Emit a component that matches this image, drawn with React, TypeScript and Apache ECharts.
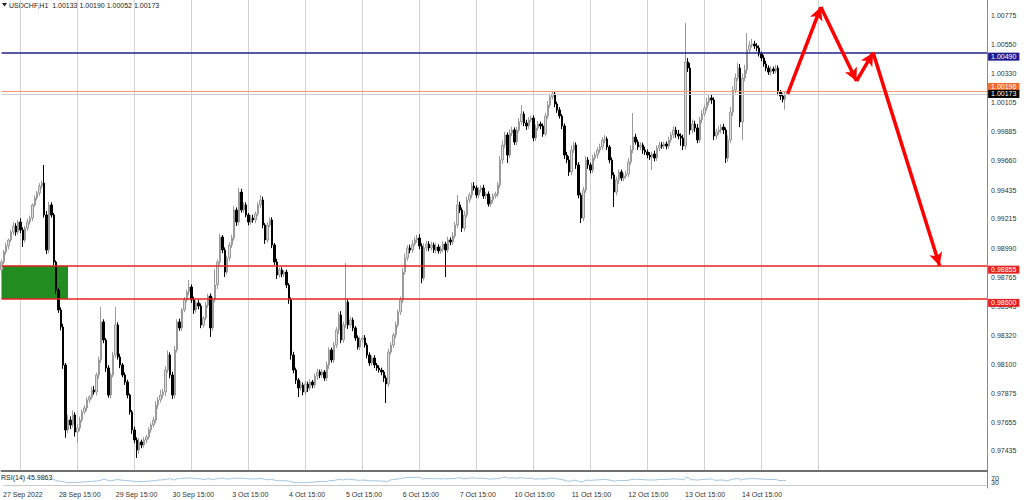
import React, { useEffect, useRef } from 'react';
import * as echarts from 'echarts';

// ---------- data (prices in 1e-5 points) ----------
const firstOpen = 98822;
const closes = [
  98883, 98960, 99006, 99052, 99113, 99159, 99113, 99190, 99129, 99052, 99144, 99190,
  99221, 99321, 99374, 99413, 99466, 99489, 99244, 98975, 99321, 99244, 98883, 98668,
  98515, 98384, 98093, 97594, 97670, 97632, 97709, 97578, 97609, 97670, 97732, 97763,
  97824, 97847, 97901, 97885, 98016, 98131, 98423, 98285, 98070, 97862, 98016, 98169,
  98400, 98154, 98093, 98016, 97962, 97862, 97732, 97594, 97517, 97440, 97502, 97479,
  97517, 97540, 97594, 97632, 97670, 97786, 97824, 97862, 97885, 98054, 98169, 98016,
  97862, 98208, 98423, 98377, 98515, 98592, 98653, 98691, 98592, 98515, 98569, 98545,
  98400, 98453, 98553, 98622, 98377, 98592, 98707, 98883, 99075, 98975, 98806, 98914,
  99014, 99067, 99282, 99190, 99420, 99282, 99321, 99244, 99190, 99221, 99206, 99252,
  99321, 99359, 99167, 99052, 99167, 99206, 99014, 98883, 98783, 98822, 98791, 98806,
  98707, 98592, 98169, 98054, 97978, 97916, 97939, 97885, 97947, 97916, 97962, 97939,
  98008, 98039, 98016, 98039, 97993, 98093, 98208, 98131, 98246, 98361, 98476, 98285,
  98400, 98576, 98400, 98438, 98377, 98300, 98231, 98285, 98300, 98246, 98169, 98108,
  98146, 98093, 98070, 98054, 98039, 97993, 97947, 98192, 98246, 98323, 98400, 98499,
  98592, 98806, 98914, 98991, 98975, 99021, 99052, 99067, 99006, 98760, 98991, 99021,
  98991, 99014, 98975, 98998, 98968, 98983, 99021, 98975, 99052, 99037, 99083, 99167,
  99321, 99282, 99144, 99244, 99359, 99397, 99466, 99451, 99397, 99436, 99451, 99390,
  99405, 99328, 99359, 99390, 99405, 99474, 99666, 99781, 99858, 99704, 99873, 99896,
  99804, 99896, 99958, 100019, 99950, 99927, 99973, 99988, 99835, 99912, 99942, 99927,
  99866, 100004, 100088, 100150, 100173, 100096, 100050, 100004, 99927, 99704, 99666, 99574,
  99743, 99781, 99628, 99397, 99221, 99436, 99666, 99628, 99589, 99681, 99704, 99743,
  99766, 99820, 99827, 99766, 99666, 99551, 99420, 99513, 99574, 99528, 99543, 99559,
  99651, 99743, 99842, 99804, 99766, 99781, 99743, 99727, 99704, 99689, 99712, 99681,
  99758, 99781, 99773, 99789, 99773, 99820, 99858, 99896, 99866, 99850, 99835, 99773,
  100418, 100372, 99896, 99942, 99912, 99820, 99973, 100019, 100065, 100111, 100142, 100127,
  99850, 99881, 99896, 99919, 99896, 99681, 99820, 100034, 100203, 100295, 100372, 99958,
  100295, 100357, 100510, 100549, 100556, 100541, 100526, 100480, 100449, 100403, 100372, 100341,
  100364, 100349, 100372, 100188, 100157, 100133, 100173,
];
const upperWicks = [
  20, 15, 25, 12, 18, 30, 22, 15, 28, 20, 14, 25,
  18, 12, 20, 15, 22, 18, 139, 30, 25, 20, 15, 12,
  18, 20, 25, 15, 40, 28, 35, 20, 30, 25, 18, 22,
  20, 15, 25, 30, 18, 25, 115, 20, 15, 22, 18, 25,
  138, 20, 25, 15, 20, 18, 12, 15, 25, 20, 30, 18,
  22, 15, 20, 18, 25, 30, 22, 40, 25, 30, 35, 20,
  25, 30, 20, 25, 15, 22, 18, 54, 20, 25, 18, 22,
  20, 15, 25, 18, 20, 25, 120, 20, 25, 15, 20, 18,
  22, 25, 30, 20, 31, 25, 18, 20, 15, 22, 25, 18,
  20, 38, 25, 15, 22, 18, 20, 15, 25, 18, 20, 15,
  18, 15, 20, 25, 18, 15, 30, 20, 25, 18, 22, 15,
  20, 25, 18, 22, 15, 25, 20, 18, 25, 22, 20, 30,
  25, 300, 20, 25, 18, 15, 20, 25, 18, 22, 15, 20,
  18, 22, 15, 20, 18, 15, 20, 25, 22, 18, 25, 20,
  25, 30, 35, 20, 25, 30, 22, 25, 28, 20, 35, 25,
  22, 25, 18, 30, 20, 25, 22, 18, 25, 20, 30, 25,
  76, 25, 20, 30, 25, 20, 25, 30, 18, 22, 20, 25,
  18, 20, 25, 22, 18, 25, 30, 35, 25, 20, 30, 25,
  20, 25, 30, 69, 20, 25, 22, 18, 20, 25, 22, 18,
  20, 25, 30, 25, 23, 20, 18, 22, 15, 20, 25, 30,
  35, 25, 20, 22, 18, 25, 30, 22, 18, 25, 20, 22,
  25, 20, 30, 18, 15, 20, 22, 25, 20, 18, 22, 25,
  30, 35, 185, 25, 20, 22, 18, 25, 20, 22, 18, 25,
  20, 25, 22, 18, 20, 25, 22, 30, 25, 30, 20, 25,
  299, 30, 40, 35, 25, 30, 25, 30, 25, 35, 30, 25,
  20, 25, 30, 22, 25, 20, 35, 40, 30, 35, 40, 30,
  35, 40, 131, 30, 40, 25, 22, 20, 18, 22, 25, 20,
  22, 18, 25, 20, 15, 20, 17,
];
const lowerWicks = [
  44, 18, 20, 25, 15, 22, 28, 20, 25, 54, 18, 22,
  20, 25, 15, 18, 22, 20, 20, 30, 25, 20, 25, 30,
  22, 25, 30, 60, 25, 30, 20, 35, 84, 25, 20, 18,
  25, 22, 18, 20, 25, 30, 22, 25, 30, 20, 25, 18,
  22, 20, 25, 18, 22, 25, 20, 30, 25, 61, 30, 25,
  20, 25, 18, 22, 20, 25, 30, 20, 25, 30, 22, 25,
  30, 25, 20, 22, 25, 18, 20, 25, 22, 30, 20, 25,
  25, 20, 18, 22, 69, 25, 20, 30, 22, 25, 38, 20,
  25, 22, 20, 30, 25, 20, 22, 18, 25, 20, 22, 25,
  20, 22, 25, 30, 20, 18, 25, 22, 30, 20, 25, 22,
  25, 30, 35, 25, 30, 69, 20, 25, 22, 30, 20, 25,
  22, 30, 25, 20, 22, 25, 30, 20, 25, 22, 30, 25,
  22, 25, 30, 20, 25, 22, 20, 25, 22, 20, 25, 22,
  20, 25, 22, 20, 25, 30, 146, 25, 20, 22, 25, 20,
  22, 25, 20, 22, 25, 20, 18, 22, 25, 40, 20, 22,
  25, 20, 22, 25, 20, 22, 25, 207, 20, 25, 22, 20,
  25, 22, 30, 25, 20, 22, 25, 20, 22, 25, 20, 22,
  25, 20, 22, 25, 20, 22, 25, 30, 25, 60, 22, 25,
  22, 25, 20, 22, 25, 30, 22, 20, 25, 22, 20, 25,
  22, 20, 25, 22, 20, 25, 22, 20, 25, 30, 25, 30,
  25, 22, 30, 25, 39, 25, 22, 30, 25, 22, 20, 25,
  22, 20, 25, 22, 25, 30, 115, 25, 30, 22, 25, 20,
  25, 22, 25, 20, 22, 25, 30, 22, 25, 22, 100, 25,
  22, 25, 20, 22, 25, 20, 22, 25, 30, 25, 60, 30,
  25, 30, 35, 25, 30, 25, 22, 25, 20, 22, 25, 30,
  30, 25, 22, 25, 30, 38, 30, 25, 30, 25, 22, 40,
  138, 25, 30, 25, 20, 22, 25, 20, 25, 22, 25, 22,
  25, 22, 20, 25, 30, 25, 81,
];
const dayLabels = [
  '27 Sep 2022', '28 Sep 15:00', '29 Sep 15:00', '30 Sep 15:00', '3 Oct 15:00',
  '4 Oct 15:00', '5 Oct 15:00', '6 Oct 15:00', '7 Oct 15:00', '10 Oct 15:00',
  '11 Oct 15:00', '12 Oct 15:00', '13 Oct 15:00', '14 Oct 15:00',
];
const priceTicks = [
  1.00775, 1.0055, 1.0033, 1.00105, 0.99885, 0.9966, 0.99435, 0.99215,
  0.9899, 0.98765, 0.98545, 0.9832, 0.981, 0.97875, 0.97655, 0.97435,
];
const rsiTicks = [0, 30, 70, 100];
const resistanceLevel = 1.0049;
const zoneTop = 0.98855;
const zoneBottom = 0.986;
const askPrice = 1.00196;
const bidPrice = 1.00173;
const zoneEndIdx = 28;
const forecastIdx = [331, 345, 360, 367, 395];
const forecastPrice = [1.00173, 1.0084, 1.00272, 1.0049, 0.98855];
const titleText = 'USDCHF,H1  1.00133 1.00190 1.00052 1.00173';
const rsiText = 'RSI(14) 45.9863';

// ---------- layout constants ----------
const SLOTS = 416;
const FIRST_LABEL = 8;
const BARS_PER_DAY = 24;
const LAST_GRID = 344;
const FONT = 'Liberation Sans, Arial, sans-serif';

function buildCandles() {
  const out: number[][] = [];
  let prev = firstOpen;
  for (let i = 0; i < closes.length; i++) {
    const o = prev;
    const c = closes[i];
    const h = Math.max(o, c) + upperWicks[i];
    const l = Math.min(o, c) - lowerWicks[i];
    out.push([o / 1e5, c / 1e5, l / 1e5, h / 1e5]);
    prev = c;
  }
  return out;
}

function buildRsi(period = 14) {
  const all = [firstOpen, ...closes];
  const out: (number | null)[] = closes.map(() => null);
  let g = 0;
  let l = 0;
  for (let i = 1; i <= period; i++) {
    const d = all[i] - all[i - 1];
    if (d > 0) g += d; else l -= d;
  }
  g /= period;
  l /= period;
  out[period - 1] = l === 0 ? 100 : 100 - 100 / (1 + g / l);
  for (let i = period + 1; i < all.length; i++) {
    const d = all[i] - all[i - 1];
    g = (g * (period - 1) + Math.max(d, 0)) / period;
    l = (l * (period - 1) + Math.max(-d, 0)) / period;
    out[i - 1] = l === 0 ? 100 : 100 - 100 / (1 + g / l);
  }
  return out;
}

const labelIndex = (i: number) => {
  const k = (i - FIRST_LABEL) / BARS_PER_DAY;
  return Number.isInteger(k) && k >= 0 && k < dayLabels.length ? k : -1;
};
const isGridIdx = (i: number) =>
  i >= FIRST_LABEL && i <= LAST_GRID && (i - FIRST_LABEL) % BARS_PER_DAY === 0;

function levelLabel(text: string, bg: string, va: string) {
  return {
    show: true,
    position: 'end',
    formatter: text,
    color: '#ffffff',
    backgroundColor: bg,
    fontSize: 7,
    fontFamily: FONT,
    lineHeight: 8,
    padding: [0, 3, 0, 3],
    distance: 1,
    verticalAlign: va,
  };
}

function buildOption() {
  const cats = Array.from({ length: SLOTS }, (_, i) => String(i));
  const arrowSegments = [];
  for (let j = 0; j < forecastIdx.length - 1; j++) {
    arrowSegments.push([
      {
        coord: [forecastIdx[j], forecastPrice[j]],
        symbol: 'none',
        lineStyle: { color: '#ff0000', width: 3.5, type: 'solid' },
        label: { show: false },
      },
      {
        coord: [forecastIdx[j + 1], forecastPrice[j + 1]],
        symbol: 'arrow',
        symbolSize: [10, 13],
        lineStyle: { color: '#ff0000', width: 3.5, type: 'solid' },
        label: { show: false },
      },
    ]);
  }
  return {
    animation: false,
    backgroundColor: '#ffffff',
    textStyle: { fontFamily: FONT },
    grid: [
      { left: 1.5, right: 36.9, top: 0, height: 471 },
      { left: 1.5, right: 36.9, top: 472, height: 16 },
    ],
    xAxis: [
      {
        type: 'category', gridIndex: 0, data: cats, boundaryGap: false,
        axisLine: { show: true, lineStyle: { color: '#707070', width: 2 } },
        axisTick: { show: false }, axisLabel: { show: false },
        splitLine: { show: true, interval: (i: number) => isGridIdx(i), lineStyle: { color: '#d2d2d2', width: 1 } },
      },
      {
        type: 'category', gridIndex: 1, data: cats, boundaryGap: false,
        axisLine: { show: true, lineStyle: { color: '#c8c8c8', width: 1 } },
        axisTick: { show: false }, splitLine: { show: false },
        axisLabel: {
          show: true, interval: (i: number) => labelIndex(i) >= 0,
          formatter: (v: string) => { const k = labelIndex(Number(v)); return k >= 0 ? dayLabels[k] : ''; },
          fontSize: 7, color: '#333333', margin: 3, fontFamily: FONT,
        },
      },
    ],
    yAxis: [
      {
        type: 'value', gridIndex: 0, position: 'right', min: 0.97279, max: 1.00894,
        axisLine: { show: true, lineStyle: { color: '#8c8c8c' } },
        axisTick: { show: false }, splitLine: { show: false },
        axisLabel: { customValues: priceTicks, formatter: (v: number) => v.toFixed(5), fontSize: 7, color: '#333333', margin: 4, fontFamily: FONT },
      },
      {
        type: 'value', gridIndex: 1, position: 'right', min: -30, max: 130,
        axisLine: { show: true, lineStyle: { color: '#8c8c8c' } },
        axisTick: { show: false }, splitLine: { show: false },
        axisLabel: { customValues: rsiTicks, formatter: (v: number) => String(v), fontSize: 7, color: '#333333', margin: 4, fontFamily: FONT },
      },
    ],
    series: [
      {
        type: 'candlestick', xAxisIndex: 0, yAxisIndex: 0, data: buildCandles(),
        barWidth: 1.8,
        itemStyle: { color: '#dcdcdc', color0: '#000000', borderColor: '#9a9a9a', borderColor0: '#000000', borderWidth: 1 },
        markArea: {
          silent: true,
          itemStyle: { color: '#228b22', opacity: 1 },
          data: [[{ coord: [0, zoneTop] }, { coord: [zoneEndIdx, zoneBottom] }]],
        },
        markLine: {
          silent: true,
          symbol: ['none', 'none'],
          precision: 5,
          animation: false,
          data: [
            { yAxis: askPrice, lineStyle: { color: '#f29a6e', width: 1, type: 'solid' }, label: levelLabel(askPrice.toFixed(5), '#ee6a2c', 'bottom') },
            { yAxis: bidPrice, lineStyle: { color: '#cfcfcf', width: 1, type: 'solid' }, label: levelLabel(bidPrice.toFixed(5), '#000000', 'middle') },
            { yAxis: resistanceLevel, lineStyle: { color: '#202088', width: 1.5, type: 'solid' }, label: levelLabel(resistanceLevel.toFixed(5), '#1c1c8a', 'top') },
            { yAxis: zoneTop, lineStyle: { color: '#e52222', width: 1.5, type: 'solid' }, label: levelLabel(zoneTop.toFixed(5), '#e52222', 'top') },
            { yAxis: zoneBottom, lineStyle: { color: '#e52222', width: 1.5, type: 'solid' }, label: levelLabel(zoneBottom.toFixed(5), '#e52222', 'top') },
            ...arrowSegments,
          ],
        },
      },
      {
        type: 'line', xAxisIndex: 1, yAxisIndex: 1, data: buildRsi(),
        showSymbol: false, silent: true,
        lineStyle: { color: '#a0c4de', width: 1 },
      },
    ],
    graphic: [
      { type: 'polygon', shape: { points: [[2, 3], [7, 3], [4.5, 6.5]] }, style: { fill: '#222222' } },
      { type: 'text', left: 9, top: 1.5, style: { text: titleText, fontSize: 7, fill: '#222222', fontFamily: FONT } },
      { type: 'text', left: 1, top: 473.5, z: 100, style: { text: rsiText, fontSize: 7, fill: '#222222', fontFamily: FONT, backgroundColor: '#ffffff' } },
    ],
  };
}

export default function App() {
  const ref = useRef<HTMLDivElement>(null);
  useEffect(() => {
    if (!ref.current) return;
    const chart = echarts.init(ref.current, undefined, { renderer: 'svg' });
    chart.setOption(buildOption() as any);
    return () => chart.dispose();
  }, []);
  return (
    <div
      ref={ref}
      style={{ position: 'absolute', left: 0, top: 0, width: 1024, height: 500, background: '#ffffff' }}
    />
  );
}
